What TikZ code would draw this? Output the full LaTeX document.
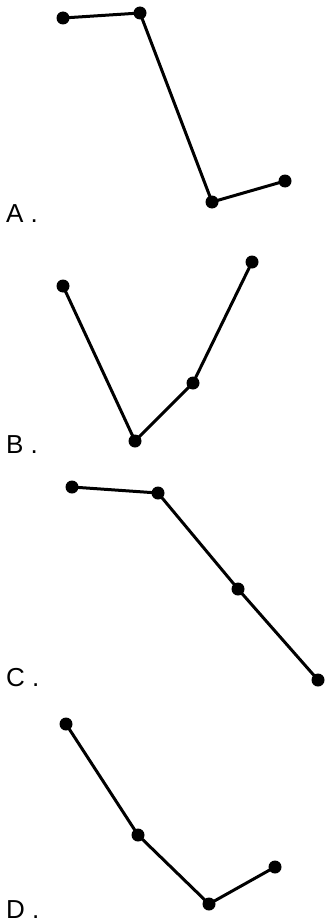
\documentclass[tikz,border=0pt]{standalone}
\usepackage{fontspec}
\setmainfont{Liberation Sans}
\begin{document}
\begin{tikzpicture}[x=1pt,y=-1pt,
  dot/.style={circle,fill=black,inner sep=0pt,minimum size=13pt},
  seg/.style={line width=3pt},
  lbl/.style={anchor=base west,inner sep=0pt,font=\fontsize{26}{26}\selectfont}]
\useasboundingbox[fill=white] (0,0) rectangle (326,923);
% A
\node[dot] (a1) at (63,18) {};
\node[dot] (a2) at (140,13) {};
\node[dot] (a3) at (212,202) {};
\node[dot] (a4) at (285,181) {};
\draw[seg] (a1.center) -- (a2.center) -- (a3.center) -- (a4.center);
\node[lbl] (la) at (6,222) {A .};
% B
\node[dot] (b1) at (63,286) {};
\node[dot] (b2) at (135,441) {};
\node[dot] (b3) at (193,383) {};
\node[dot] (b4) at (252,262) {};
\draw[seg] (b1.center) -- (b2.center) -- (b3.center) -- (b4.center);
\node[lbl] (lb) at (6,453) {B .};
% C
\node[dot] (c1) at (72,487) {};
\node[dot] (c2) at (158,493) {};
\node[dot] (c3) at (238,589) {};
\node[dot] (c4) at (318,680) {};
\draw[seg] (c1.center) -- (c2.center) -- (c3.center) -- (c4.center);
\node[lbl] (lc) at (6,686) {C .};
% D
\node[dot] (d1) at (66,724) {};
\node[dot] (d2) at (138,835) {};
\node[dot] (d3) at (209,904) {};
\node[dot] (d4) at (275,867) {};
\draw[seg] (d1.center) -- (d2.center) -- (d3.center) -- (d4.center);
\node[lbl] (ld) at (6,918) {D .};
\end{tikzpicture}
\end{document}
